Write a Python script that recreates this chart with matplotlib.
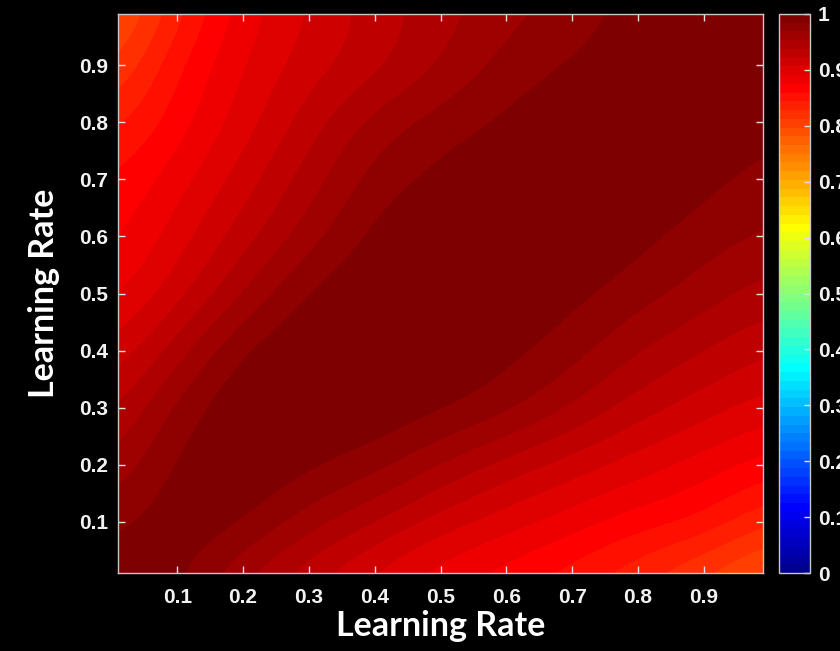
import matplotlib.pyplot as plt
import numpy as np
from matplotlib.colors import ListedColormap

# grid of learning rates (columns = x, rows = y)
rate_x = [0.0, 0.1, 0.2, 0.3, 0.4, 0.5, 0.6, 0.7, 0.8, 0.9, 1.0]
rate_y = [0.0, 0.1, 0.2, 0.3, 0.4, 0.5, 0.6, 0.7, 0.8, 0.9, 1.0]

# values, one row per y value (bottom to top)
row_00 = [1.000, 0.990, 0.950, 0.923, 0.898, 0.878, 0.864, 0.848, 0.828, 0.805, 0.781]
row_01 = [0.977, 1.000, 0.990, 0.961, 0.938, 0.914, 0.898, 0.883, 0.867, 0.859, 0.828]
row_02 = [0.953, 0.990, 1.000, 0.990, 0.977, 0.953, 0.930, 0.914, 0.898, 0.883, 0.867]
row_03 = [0.930, 0.977, 1.000, 1.000, 1.000, 0.990, 0.977, 0.953, 0.930, 0.914, 0.898]
row_04 = [0.906, 0.945, 0.990, 1.000, 1.000, 1.000, 0.990, 0.977, 0.953, 0.938, 0.922]
row_05 = [0.883, 0.914, 0.953, 0.990, 1.000, 1.000, 1.000, 0.990, 0.977, 0.961, 0.945]
row_06 = [0.867, 0.898, 0.930, 0.961, 0.992, 1.000, 1.000, 1.000, 0.990, 0.977, 0.966]
row_07 = [0.859, 0.883, 0.914, 0.945, 0.977, 0.990, 1.000, 1.000, 1.000, 0.990, 0.977]
row_08 = [0.836, 0.867, 0.898, 0.930, 0.961, 0.977, 0.988, 1.000, 1.000, 1.000, 0.990]
row_09 = [0.805, 0.859, 0.891, 0.914, 0.930, 0.953, 0.975, 0.986, 1.000, 1.000, 1.000]
row_10 = [0.781, 0.836, 0.883, 0.906, 0.930, 0.945, 0.964, 0.972, 0.992, 1.000, 1.000]

axis_ticks = [0.1, 0.2, 0.3, 0.4, 0.5, 0.6, 0.7, 0.8, 0.9]
axis_labels = ['0.1', '0.2', '0.3', '0.4', '0.5', '0.6', '0.7', '0.8', '0.9']
cbar_ticks = [0, 0.1, 0.2, 0.3, 0.4, 0.5, 0.6, 0.7, 0.8, 0.9, 1.0]
cbar_labels = ['0', '0.1', '0.2', '0.3', '0.4', '0.5', '0.6', '0.7', '0.8', '0.9', '1']


def matlab_jet(m=64):
    # same construction as MATLAB's jet(m)
    n = int(np.ceil(m / 4))
    u = np.concatenate([np.arange(1, n + 1) / n, np.ones(n - 1), np.arange(n, 0, -1) / n])
    g = int(np.ceil(n / 2)) - (1 if m % 4 == 1 else 0) + np.arange(1, len(u) + 1)
    r = g + n
    b = g - n
    J = np.zeros((m, 3))
    for col, idx in ((0, r), (1, g), (2, b)):
        keep = (idx >= 1) & (idx <= m)
        J[idx[keep] - 1, col] = u[keep]
    return ListedColormap(J)


grid = np.array([row_00, row_01, row_02, row_03, row_04, row_05,
                 row_06, row_07, row_08, row_09, row_10])
dx = (rate_x[1] - rate_x[0]) / 2
dy = (rate_y[1] - rate_y[0]) / 2

fig = plt.figure(figsize=(8.4, 6.51), dpi=100, facecolor='black')
ax = fig.add_axes([0.1405, 0.1198, 0.7679, 0.8587])
im = ax.imshow(grid, origin='lower', cmap=matlab_jet(64), vmin=0, vmax=1,
               extent=(rate_x[0] - dx, rate_x[-1] + dx, rate_y[0] - dy, rate_y[-1] + dy),
               interpolation='bicubic', interpolation_stage='data', aspect='auto')
ax.set_xlim(0.01, 0.99)
ax.set_ylim(0.01, 0.99)

tick_font = dict(family='Liberation Sans', weight='bold', size=15, color='#f2f2f2')
label_font = dict(family='Lato', weight='bold', size=24.5, color='white')

ax.set_xticks(axis_ticks)
ax.set_xticklabels(axis_labels, **tick_font)
ax.set_yticks(axis_ticks)
ax.set_yticklabels(axis_labels, **tick_font)
ax.tick_params(direction='in', length=5, width=1, color='#e0e0e0',
               top=True, right=True)
ax.tick_params(axis='x', pad=11)
ax.tick_params(axis='y', pad=7)
for s in ax.spines.values():
    s.set_color('#c8c8c8')
    s.set_linewidth(1)
ax.set_xlabel('Learning Rate', labelpad=2, **label_font)
ax.set_ylabel('Learning Rate', labelpad=14, **label_font)

cax = fig.add_axes([0.927, 0.1198, 0.037, 0.8587])
cb = fig.colorbar(im, cax=cax, ticks=cbar_ticks)
cb.ax.set_yticklabels(cbar_labels, **tick_font)
cb.ax.tick_params(direction='in', length=4, width=1, color='#e0e0e0', pad=6)
cb.outline.set_edgecolor('#c8c8c8')
cb.outline.set_linewidth(1)

fig.savefig('out.png', dpi=100, facecolor='black')
